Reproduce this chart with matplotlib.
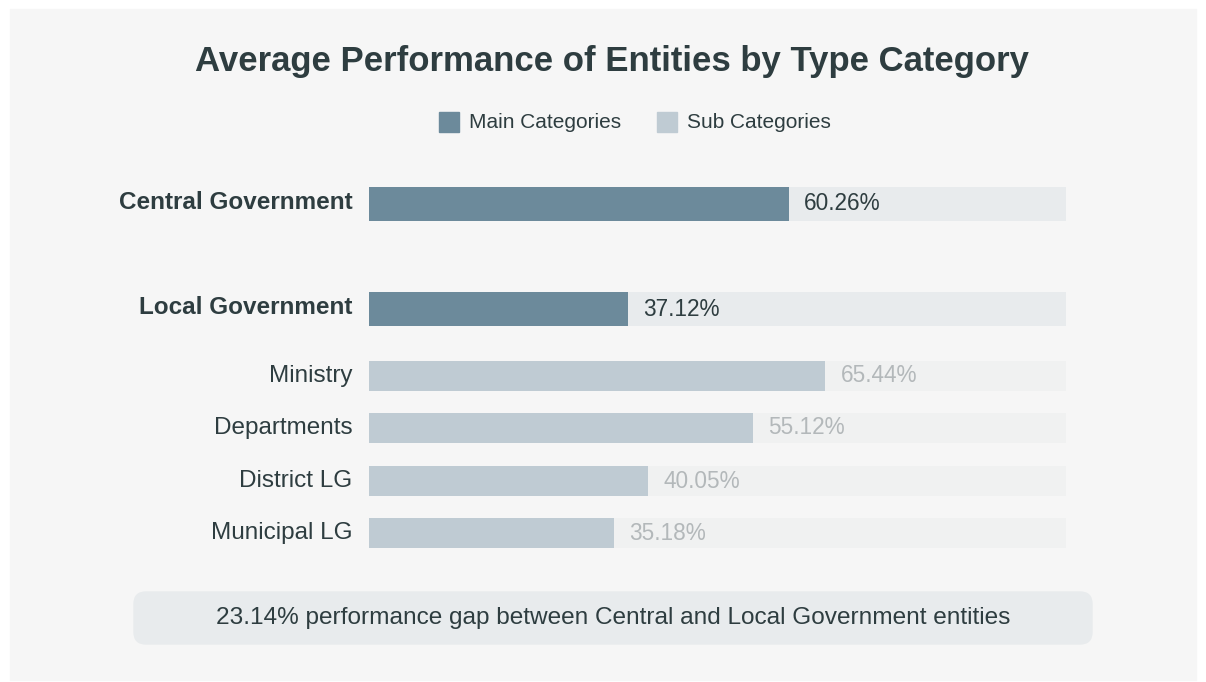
import matplotlib.pyplot as plt
from matplotlib.patches import FancyBboxPatch, Rectangle

plt.rcParams['font.family'] = ['Liberation Sans', 'DejaVu Sans']

# data
categories = ['Central Government', 'Local Government', 'Ministry', 'Departments', 'District LG', 'Municipal LG']
performance = [60.26, 37.12, 65.44, 55.12, 40.05, 35.18]
is_main = [True, True, False, False, False, False]
legend_labels = ['Main Categories', 'Sub Categories']
gap_note = '23.14% performance gap between Central and Local Government entities'

# colours
dark = '#2e3d40'
main_color = '#6c8a9b'
sub_color = '#bfcbd3'
main_track = '#e8ebed'
sub_track = '#f0f1f1'
sub_text = '#b3b8ba'
card_bg = '#f6f6f6'

W, H = 1206, 682
fig = plt.figure(figsize=(W / 100, H / 100), dpi=100)
fig.patch.set_facecolor('white')

def fx(px):
    return px / W

def fy(py):
    return 1 - py / H

# card background
fig.patches.append(Rectangle((fx(10), fy(680)), fx(1186), 671 / H,
                             transform=fig.transFigure, color=card_bg, zorder=-10))

fig.text(fx(612), fy(61), 'Average Performance of Entities by Type Category',
         ha='center', va='center', fontsize=25, fontweight='bold', color=dark)

# legend
for px, label, col in [(439, legend_labels[0], main_color), (657, legend_labels[1], sub_color)]:
    fig.patches.append(Rectangle((fx(px), fy(132)), fx(20), 20 / H,
                                 transform=fig.transFigure, color=col))
    fig.text(fx(px + 30), fy(123), label, ha='left', va='center', fontsize=15, color=dark)

# bar area: x in percent, y in row layout units
top, bottom = 180, 560
ax = fig.add_axes([fx(369), fy(bottom), fx(697), (bottom - top) / H])
ax.set_zorder(5)
ax.set_xlim(0, 100)
ax.set_ylim(bottom, top)
ax.axis('off')

row_pos = [204, 309, 376, 428, 481, 533]
for y, name, val, main in zip(row_pos, categories, performance, is_main):
    h = 34 if main else 30
    ax.barh(y, 100, height=h, color=main_track if main else sub_track, zorder=1)
    ax.barh(y, val, height=h, color=main_color if main else sub_color, zorder=2)
    ax.text(val + 2.2, y, f'{val:.2f}%', ha='left', va='center', fontsize=16.3,
            color=dark if main else sub_text, clip_on=False)
    ax.text(-2.4, y - (1.5 if main else 0), name, ha='right', va='center', fontsize=17.5,
            fontweight='bold' if main else 'normal', color=dark, clip_on=False)

# gap summary box
fig.patches.append(FancyBboxPatch((fx(134), fy(644)), fx(958), 52 / H,
                                  boxstyle='round,pad=0,rounding_size=0.01',
                                  transform=fig.transFigure, color=main_track,
                                  mutation_aspect=W / H))
fig.text(fx(613), fy(618), gap_note, ha='center', va='center', fontsize=17.6, color=dark)

fig.savefig('out.png', dpi=100)
